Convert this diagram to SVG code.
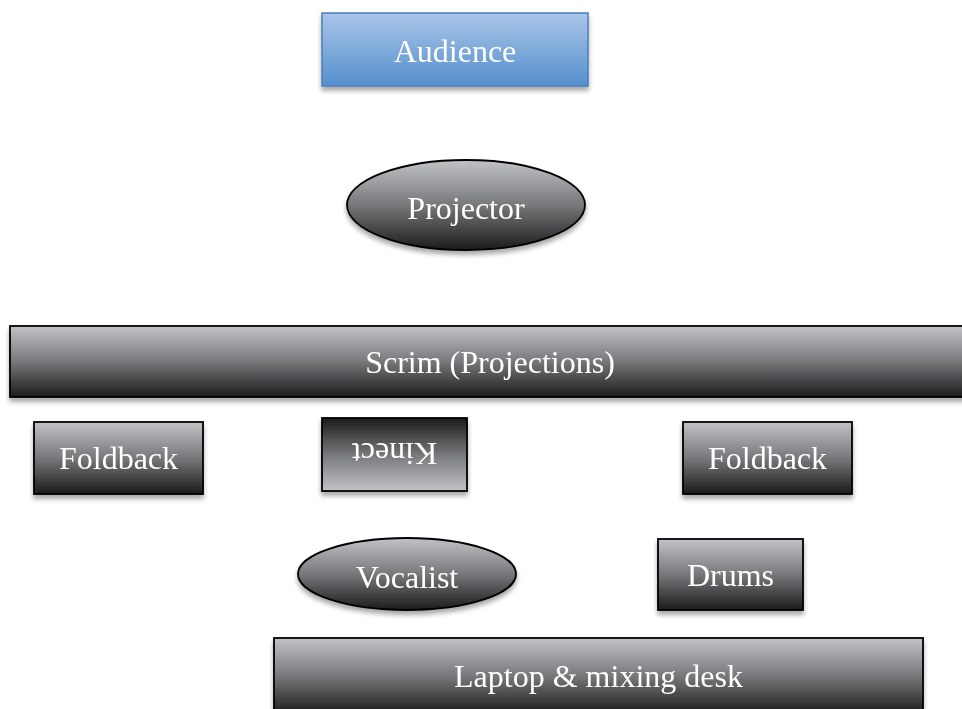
<svg xmlns="http://www.w3.org/2000/svg" width="962" height="709" viewBox="0 0 962 709">
  <defs>
    <linearGradient id="grey" x1="0" y1="0" x2="0" y2="1">
      <stop offset="0" stop-color="#c2c3c6"/>
      <stop offset="0.5" stop-color="#77787b"/>
      <stop offset="1" stop-color="#1c1b1d"/>
    </linearGradient>
    <linearGradient id="blue" x1="0" y1="0" x2="0" y2="1">
      <stop offset="0" stop-color="#a9c5e8"/>
      <stop offset="1" stop-color="#5590cd"/>
    </linearGradient>
    <filter id="shadow" x="-10%" y="-20%" width="120%" height="150%">
      <feGaussianBlur in="SourceAlpha" stdDeviation="2.5"/>
      <feOffset dx="0" dy="4" result="b"/>
      <feComponentTransfer><feFuncA type="linear" slope="0.35"/></feComponentTransfer>
      <feMerge><feMergeNode/><feMergeNode in="SourceGraphic"/></feMerge>
    </filter>
  </defs>
  <style>
    .box { fill: url(#grey); stroke: #000; stroke-width: 1.8; }
    .lbl { font-family: "Liberation Serif", "Times New Roman", serif; font-size: 32px; fill: #fff; text-anchor: middle; }
  </style>
  <rect width="962" height="709" fill="#fff"/>

  <g id="audience" filter="url(#shadow)">
    <rect x="322" y="13" width="266" height="73" fill="url(#blue)" stroke="#4a7ebb" stroke-width="1.5"/>
    <text class="lbl" x="455" y="62">Audience</text>
  </g>

  <g id="projector" filter="url(#shadow)">
    <ellipse class="box" cx="466" cy="205" rx="119" ry="45"/>
    <text class="lbl" x="466" y="219">Projector</text>
  </g>

  <g id="scrim" filter="url(#shadow)">
    <rect class="box" x="10" y="326" width="962" height="71"/>
    <text class="lbl" x="490" y="373">Scrim (Projections)</text>
  </g>

  <g id="foldback-left" filter="url(#shadow)">
    <rect class="box" x="34" y="422" width="169" height="72"/>
    <text class="lbl" x="118.5" y="469">Foldback</text>
  </g>

  <g id="kinect" filter="url(#shadow)">
    <g transform="rotate(180 394.5 454.5)">
      <rect class="box" x="322" y="418" width="145" height="73"/>
      <text class="lbl" x="394.5" y="466">Kinect</text>
    </g>
  </g>

  <g id="foldback-right" filter="url(#shadow)">
    <rect class="box" x="683" y="422" width="169" height="72"/>
    <text class="lbl" x="767.5" y="469">Foldback</text>
  </g>

  <g id="vocalist" filter="url(#shadow)">
    <ellipse class="box" cx="407" cy="574" rx="109" ry="36"/>
    <text class="lbl" x="407" y="588">Vocalist</text>
  </g>

  <g id="drums" filter="url(#shadow)">
    <rect class="box" x="658" y="539" width="145" height="71"/>
    <text class="lbl" x="730.5" y="586">Drums</text>
  </g>

  <g id="laptop-mixing-desk" filter="url(#shadow)">
    <rect class="box" x="274" y="638" width="649" height="76"/>
    <text class="lbl" x="598.5" y="687">Laptop &amp; mixing desk</text>
  </g>

  <g id="connectors"/>
</svg>
